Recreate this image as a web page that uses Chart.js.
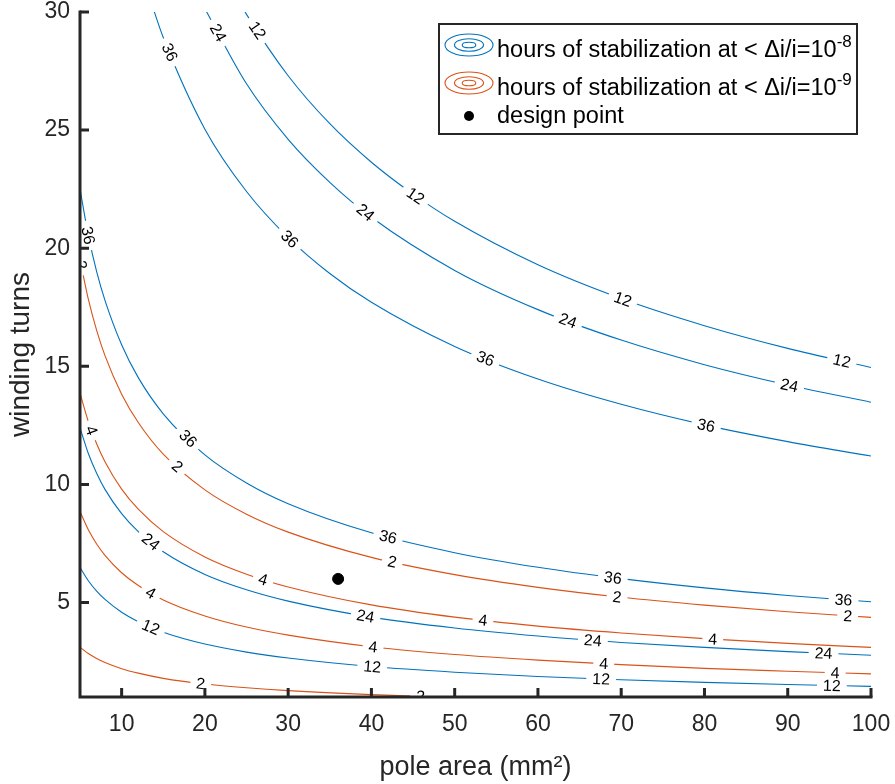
<!DOCTYPE html>
<html>
<head>
<meta charset="utf-8">
<script src="https://cdn.jsdelivr.net/npm/chart.js@4.4.0/dist/chart.umd.min.js"></script>
<style>
  html, body { margin: 0; padding: 0; background: #fff; }
  #wrap { width: 895px; height: 784px; }
</style>
</head>
<body>
<div id="wrap"><canvas id="canvas"></canvas></div>
<script>
// pole area (mm^2) sample positions
const lowArea = [5, 6, 7, 8, 10, 12, 15, 20, 25, 30, 40, 50, 60, 70, 80, 90, 100];

// hours of stabilization at < di/i = 1e-8 (blue)
const blue12UpArea = [24, 25, 30, 35, 40, 45, 50, 60, 70, 80, 90, 100];
const blue12Up = [30.52, 29.90, 27.30, 25.27, 23.64, 22.29, 21.14, 19.30, 17.87, 16.72, 15.76, 14.95];
const blue24UpArea = [20, 25, 30, 35, 40, 50, 60, 70, 80, 90, 100];
const blue24Up = [30.14, 26.96, 24.61, 22.79, 21.31, 19.06, 17.40, 16.11, 15.07, 14.21, 13.48];
const blue36UpArea = [13, 14, 15, 20, 25, 30, 35, 40, 50, 60, 70, 80, 90, 100];
const blue36Up = [31.06, 29.93, 28.92, 25.04, 22.40, 20.45, 18.93, 17.71, 15.84, 14.46, 13.39, 12.52, 11.81, 11.20];
const blue36Low = [22.50, 20.54, 19.01, 17.79, 15.91, 14.52, 12.99, 11.25, 10.06, 9.18, 7.95, 7.11, 6.49, 6.01, 5.62, 5.30, 5.03];
const blue24Low = [12.39, 11.31, 10.47, 9.79, 8.76, 8.00, 7.15, 6.19, 5.54, 5.06, 4.38, 3.92, 3.58, 3.31, 3.10, 2.92, 2.77];
const blue12Low = [6.48, 5.92, 5.48, 5.13, 4.59, 4.19, 3.74, 3.24, 2.90, 2.65, 2.29, 2.05, 1.87, 1.73, 1.62, 1.53, 1.45];

// hours of stabilization at < di/i = 1e-9 (orange)
const orange2Up = [19.54, 17.84, 16.52, 15.45, 13.82, 12.62, 11.28, 9.77, 8.74, 7.98, 6.91, 6.18, 5.64, 5.22, 4.89, 4.61, 4.37];
const orange4Up = [13.86, 12.66, 11.72, 10.96, 9.80, 8.95, 8.00, 6.93, 6.20, 5.66, 4.90, 4.38, 4.00, 3.71, 3.47, 3.27, 3.10];
const orange4Low = [8.85, 8.08, 7.48, 7.00, 6.26, 5.72, 5.11, 4.43, 3.96, 3.62, 3.13, 2.80, 2.56, 2.37, 2.21, 2.09, 1.98];
const orange2LowArea = [5, 6, 7, 8, 10, 12, 15, 20, 25, 30, 40, 50];
const orange2Low = [3.11, 2.84, 2.63, 2.46, 2.20, 2.01, 1.79, 1.55, 1.39, 1.27, 1.10, 0.98];

// where the inline contour labels sit (pole area)
const blue12UpLabels = [26.3, 45.3, 70.2, 96.5];
const blue24UpLabels = [21.6, 39.3, 63.6, 90.2];
const blue36UpLabels = [15.8, 30.2, 53.7, 80.2];
const blue36LowLabels = [6.0, 18.0, 42.0, 69.0, 96.7];
const orange2UpLabels = [5.15, 16.7, 42.5, 69.5, 97.2];
const orange4UpLabels = [6.4, 27.0, 53.4, 81.0];
const blue24LowLabels = [13.5, 39.3, 66.6, 94.3];
const orange4LowLabels = [13.5, 40.2, 67.9, 95.7];
const blue12LowLabels = [13.5, 40.1, 67.6, 95.3];
const orange2LowLabels = [19.5, 45.9];

const designPoint = [36, 6];

const xTicks = [10, 20, 30, 40, 50, 60, 70, 80, 90, 100];
const yTicks = [5, 10, 15, 20, 25, 30];

const BLUE = '#0072BD';
const ORANGE = '#D95319';
const AXIS = '#262626';
const FONT = '"Liberation Sans", Arial, Helvetica, sans-serif';

function pts(xs, ys) {
    return xs.map((x, i) => ({x: x, y: ys[i]}));
}

function contour(xs, ys, color, level, labelAt) {
    return {
        data: pts(xs, ys),
        showLine: true,
        borderColor: color,
        borderWidth: 1.1,
        pointRadius: 0,
        cubicInterpolationMode: 'monotone',
        level: level,
        labelAt: labelAt
    };
}

// y value on a dataset at a given x (for placing labels)
function yAt(data, xv) {
    if (xv <= data[0].x) return data[0].y;
    for (let i = 1; i < data.length; i++) {
        if (xv <= data[i].x) {
            const a = data[i - 1], b = data[i];
            const t = (xv - a.x) / (b.x - a.x);
            return a.y + t * (b.y - a.y);
        }
    }
    return data[data.length - 1].y;
}

const contourLabels = {
    id: 'contourLabels',
    afterDatasetsDraw(chart) {
        const {ctx, chartArea, scales: {x, y}} = chart;
        ctx.save();
        ctx.beginPath();
        ctx.rect(chartArea.left, chartArea.top, chartArea.width, chartArea.height);
        ctx.clip();
        ctx.font = '16px ' + FONT;
        ctx.textAlign = 'center';
        ctx.textBaseline = 'middle';
        chart.data.datasets.forEach(ds => {
            if (!ds.labelAt) return;
            const d = ds.data;
            ds.labelAt.forEach(xv => {
                const x0 = Math.max(d[0].x, xv - 0.6), x1 = Math.min(d[d.length - 1].x, xv + 0.6);
                const px = x.getPixelForValue(xv), py = y.getPixelForValue(yAt(d, xv));
                const ax = x.getPixelForValue(x0), ay = y.getPixelForValue(yAt(d, x0));
                const bx = x.getPixelForValue(x1), by = y.getPixelForValue(yAt(d, x1));
                const ang = Math.atan2(by - ay, bx - ax);
                const txt = String(ds.level);
                const w = ctx.measureText(txt).width;
                ctx.save();
                ctx.translate(px, py);
                ctx.rotate(ang);
                ctx.fillStyle = '#fff';
                ctx.fillRect(-w / 2 - 6, -3, w + 12, 6);
                ctx.fillStyle = '#000';
                ctx.fillText(txt, 0, 1);
                ctx.restore();
            });
        });
        ctx.restore();
    }
};

const axesAndLegend = {
    id: 'axesAndLegend',
    afterDraw(chart) {
        const {ctx, chartArea: ca, scales: {x, y}} = chart;
        ctx.save();
        // axes lines and inward ticks
        ctx.strokeStyle = AXIS;
        ctx.lineWidth = 3;
        ctx.beginPath();
        ctx.moveTo(ca.left, ca.top - 1.5);
        ctx.lineTo(ca.left, ca.bottom);
        ctx.lineTo(ca.right + 1.5, ca.bottom);
        ctx.stroke();
        ctx.beginPath();
        xTicks.forEach(v => {
            const p = x.getPixelForValue(v);
            ctx.moveTo(p, ca.bottom);
            ctx.lineTo(p, ca.bottom - 9);
        });
        yTicks.forEach(v => {
            const p = y.getPixelForValue(v);
            ctx.moveTo(ca.left, p);
            ctx.lineTo(ca.left + 9, p);
        });
        ctx.stroke();

        // legend box
        const bx = 439, by = 24, bw = 418, bh = 110;
        ctx.fillStyle = '#fff';
        ctx.fillRect(bx, by, bw, bh);
        ctx.lineWidth = 2;
        ctx.strokeRect(bx, by, bw, bh);

        const rows = [
            {y: 45, base: 57, color: BLUE, sup: '-8'},
            {y: 83, base: 95, color: ORANGE, sup: '-9'}
        ];
        ctx.textBaseline = 'alphabetic';
        ctx.textAlign = 'left';
        rows.forEach(r => {
            ctx.lineWidth = 1.1;
            ctx.strokeStyle = r.color;
            [[24, 11], [14.5, 6.2], [6.8, 2.8]].forEach(e => {
                ctx.beginPath();
                ctx.ellipse(469, r.y, e[0], e[1], 0, 0, Math.PI * 2);
                ctx.stroke();
            });
            ctx.fillStyle = '#000';
            ctx.font = '23.5px ' + FONT;
            const main = 'hours of stabilization at < \u0394i/i=10';
            ctx.fillText(main, 497, r.base);
            const w = ctx.measureText(main).width;
            ctx.font = '17px ' + FONT;
            ctx.fillText(r.sup, 497 + w, r.base - 10);
        });
        ctx.beginPath();
        ctx.fillStyle = '#000';
        ctx.arc(469, 116, 5, 0, Math.PI * 2);
        ctx.fill();
        ctx.font = '23.5px ' + FONT;
        ctx.fillText('design point', 497, 123);
        ctx.restore();
    }
};

const config = {
    type: 'scatter',
    data: {
        datasets: [
            contour(blue12UpArea, blue12Up, BLUE, 12, blue12UpLabels),
            contour(blue24UpArea, blue24Up, BLUE, 24, blue24UpLabels),
            contour(blue36UpArea, blue36Up, BLUE, 36, blue36UpLabels),
            contour(lowArea, blue36Low, BLUE, 36, blue36LowLabels),
            contour(lowArea, blue24Low, BLUE, 24, blue24LowLabels),
            contour(lowArea, blue12Low, BLUE, 12, blue12LowLabels),
            contour(lowArea, orange2Up, ORANGE, 2, orange2UpLabels),
            contour(lowArea, orange4Up, ORANGE, 4, orange4UpLabels),
            contour(lowArea, orange4Low, ORANGE, 4, orange4LowLabels),
            contour(orange2LowArea, orange2Low, ORANGE, 2, orange2LowLabels),
            {
                data: [{x: designPoint[0], y: designPoint[1]}],
                pointRadius: 5.5,
                pointBackgroundColor: '#000',
                pointBorderColor: '#000',
                showLine: false
            }
        ]
    },
    options: {
        responsive: false,
        animation: false,
        layout: {padding: {top: 12, right: 24, left: 0, bottom: 0}},
        plugins: {
            legend: {display: false},
            tooltip: {enabled: false}
        },
        scales: {
            x: {
                type: 'linear',
                min: 5,
                max: 100,
                afterBuildTicks: s => { s.ticks = xTicks.map(v => ({value: v})); },
                afterFit: s => { s.height = 87; s.paddingLeft = 0; s.paddingRight = 0; },
                grid: {display: false, drawTicks: false},
                border: {display: false},
                ticks: {color: AXIS, padding: 14, font: {family: FONT, size: 23}},
                title: {
                    display: true,
                    text: 'pole area (mm\u00b2)',
                    color: AXIS,
                    font: {family: FONT, size: 27},
                    padding: {top: 0, bottom: 0}
                }
            },
            y: {
                type: 'linear',
                min: 1,
                max: 30,
                afterBuildTicks: s => { s.ticks = yTicks.map(v => ({value: v})); },
                afterFit: s => { s.width = 80; s.paddingTop = 0; s.paddingBottom = 0; },
                grid: {display: false, drawTicks: false},
                border: {display: false},
                ticks: {color: AXIS, padding: 10, font: {family: FONT, size: 23}},
                title: {
                    display: true,
                    text: 'winding turns',
                    color: AXIS,
                    font: {family: FONT, size: 28},
                    padding: {top: 4, bottom: 0}
                }
            }
        }
    },
    plugins: [contourLabels, axesAndLegend]
};

const canvas = document.getElementById('canvas');
canvas.width = 895;
canvas.height = 784;
const myChart = new Chart(canvas.getContext('2d'), config);
</script>
</body>
</html>
